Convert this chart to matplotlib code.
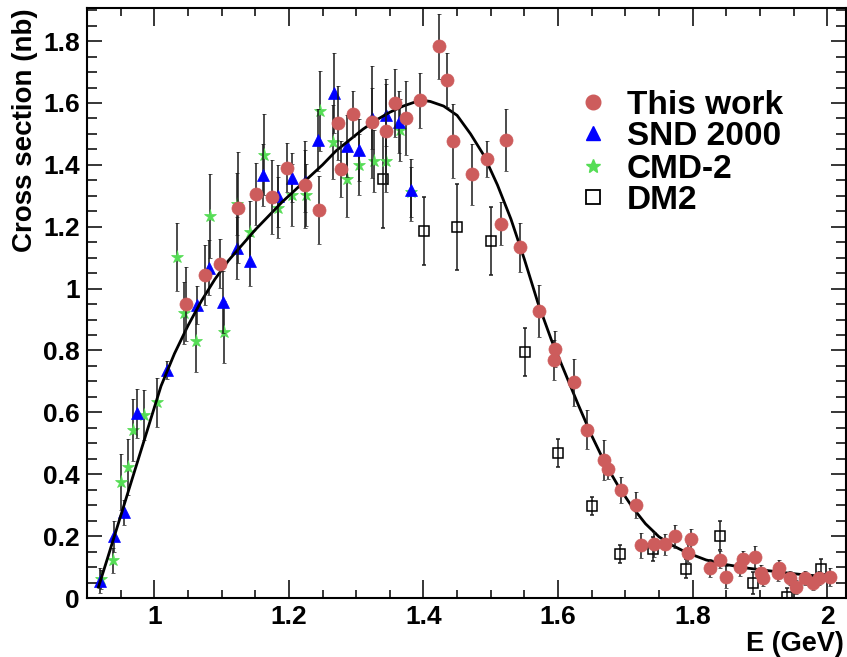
import matplotlib
matplotlib.use("Agg")
import matplotlib.pyplot as plt
from matplotlib.ticker import MultipleLocator, FuncFormatter

# ---- data: This work ----
this_E = [1.047, 1.0755, 1.0976, 1.1247, 1.1515, 1.175, 1.1966, 1.2237, 1.245, 1.273,
          1.277, 1.2955, 1.3237, 1.345, 1.357, 1.3748, 1.3945, 1.423, 1.4356, 1.444,
          1.472, 1.4944, 1.515, 1.522, 1.5435, 1.572, 1.5935, 1.5954, 1.6236, 1.6435,
          1.669, 1.6747, 1.6934, 1.716, 1.7237, 1.742, 1.759, 1.7746, 1.7927, 1.7977,
          1.8266, 1.840, 1.849, 1.871, 1.8745, 1.893, 1.9018, 1.904, 1.9265, 1.928,
          1.945, 1.954, 1.9676, 1.9785, 1.9885, 2.0048]
this_s = [0.950, 1.044, 1.081, 1.262, 1.307, 1.296, 1.391, 1.336, 1.253, 1.536,
          1.386, 1.565, 1.538, 1.508, 1.601, 1.551, 1.608, 1.783, 1.673, 1.476,
          1.369, 1.419, 1.210, 1.481, 1.133, 0.928, 0.769, 0.806, 0.698, 0.544,
          0.447, 0.416, 0.350, 0.300, 0.170, 0.173, 0.173, 0.199, 0.145, 0.191,
          0.097, 0.124, 0.068, 0.099, 0.126, 0.133, 0.081, 0.065, 0.081, 0.097,
          0.065, 0.035, 0.065, 0.049, 0.065, 0.068]
this_err = [0.12, 0.097, 0.08, 0.18, 0.10, 0.12, 0.08, 0.14, 0.11, 0.12,
            0.09, 0.074, 0.18, 0.17, 0.11, 0.12, 0.09, 0.106, 0.087, 0.12,
            0.10, 0.058, 0.07, 0.10, 0.08, 0.085, 0.065, 0.058, 0.076, 0.063,
            0.064, 0.03, 0.042, 0.043, 0.04, 0.04, 0.035, 0.036, 0.03, 0.032,
            0.03, 0.027, 0.037, 0.027, 0.027, 0.035, 0.025, 0.025, 0.025, 0.027,
            0.022, 0.022, 0.022, 0.022, 0.022, 0.03]

# ---- data: SND 2000 ----
snd_E = [0.920, 0.940, 0.955, 0.974, 1.019, 1.063, 1.082, 1.1025, 1.123, 1.142, 1.161,
         1.184, 1.204, 1.224, 1.2435, 1.267, 1.286, 1.304, 1.324, 1.345, 1.364, 1.381]
snd_s = [0.056, 0.199, 0.277, 0.597, 0.737, 0.947, 1.068, 0.957, 1.130, 1.089, 1.368,
         1.298, 1.359, 1.348, 1.479, 1.632, 1.460, 1.449, 1.55, 1.56, 1.538, 1.318]
snd_err = [0.04, 0.05, 0.04, 0.08, 0.03, 0.06, 0.09, 0.10, 0.10, 0.08, 0.10,
           0.10, 0.08, 0.10, 0.10, 0.13, 0.10, 0.10, 0.10, 0.10, 0.10, 0.10]

# ---- data: CMD-2 ----
cmd_E = [0.9204, 0.939, 0.950, 0.9614, 0.9687, 0.9847, 1.0045, 1.034, 1.0445, 1.0614,
         1.0827, 1.1035, 1.123, 1.142, 1.1633, 1.184, 1.205, 1.226, 1.246, 1.266,
         1.287, 1.3044, 1.326, 1.345, 1.3648, 1.381]
cmd_s = [0.06, 0.122, 0.374, 0.423, 0.544, 0.592, 0.632, 1.103, 0.92, 0.832,
         1.234, 0.861, 1.273, 1.183, 1.433, 1.262, 1.302, 1.302, 1.574, 1.474,
         1.353, 1.401, 1.412, 1.412, 1.513, 1.312]
cmd_err = [0.03, 0.04, 0.09, 0.09, 0.10, 0.08, 0.08, 0.11, 0.10, 0.10,
           0.135, 0.10, 0.10, 0.10, 0.13, 0.10, 0.10, 0.10, 0.13, 0.12,
           0.12, 0.10, 0.10, 0.10, 0.10, 0.08]

# ---- data: DM2 ----
dm2_E = [1.340, 1.4005, 1.4505, 1.501, 1.5505, 1.6005, 1.651, 1.6915, 1.741, 1.7905,
         1.840, 1.8905, 1.9405, 1.9905]
dm2_s = [1.355, 1.185, 1.199, 1.154, 0.796, 0.468, 0.298, 0.142, 0.158, 0.095,
         0.202, 0.049, 0.003, 0.095]
dm2_err = [0.16, 0.11, 0.14, 0.11, 0.078, 0.046, 0.03, 0.03, 0.04, 0.03,
           0.047, 0.035, 0.03, 0.03]

# ---- fit curve ----
fit_E = [0.917, 0.93, 0.95, 0.97, 0.99, 1.01, 1.03, 1.05, 1.07, 1.09, 1.11, 1.13, 1.15,
         1.17, 1.19, 1.21, 1.23, 1.25, 1.27, 1.29, 1.31, 1.33, 1.35, 1.37, 1.39, 1.40,
         1.41, 1.43, 1.45, 1.47, 1.49, 1.51, 1.53, 1.55, 1.57, 1.59, 1.61, 1.63, 1.65,
         1.67, 1.69, 1.71, 1.73, 1.75, 1.77, 1.79, 1.82, 1.85, 1.88, 1.91, 1.94, 1.97, 1.99]
fit_s = [0.035, 0.125, 0.265, 0.405, 0.545, 0.685, 0.79, 0.88, 0.96, 1.03, 1.09, 1.14, 1.19,
         1.235, 1.28, 1.32, 1.36, 1.40, 1.445, 1.48, 1.515, 1.545, 1.57, 1.59, 1.605, 1.608,
         1.605, 1.59, 1.56, 1.50, 1.43, 1.335, 1.225, 1.095, 0.955, 0.835, 0.73, 0.625, 0.525,
         0.435, 0.36, 0.295, 0.24, 0.198, 0.17, 0.148, 0.123, 0.108, 0.097, 0.089, 0.081,
         0.074, 0.071]

legend_labels = ["This work", "SND 2000", "CMD-2", "DM2"]
x_ticks = [1.0, 1.2, 1.4, 1.6, 1.8, 2.0]
y_ticks = [0, 0.2, 0.4, 0.6, 0.8, 1.0, 1.2, 1.4, 1.6, 1.8]

RED = "#CD5C5C"
BLUE = "#0000FF"
GREEN = "#55DD55"

plt.rcParams['font.family'] = ['Liberation Sans', 'DejaVu Sans']
plt.rcParams['font.weight'] = 'bold'

W, H = 847, 657
fig = plt.figure(figsize=(W / 100, H / 100), dpi=100)
ax = fig.add_axes([87 / W, 1 - 598 / H, (846 - 87) / W, (598 - 8.3) / H])

eb_kw = dict(ecolor="#1a1a1a", elinewidth=1.1, capsize=1.6, capthick=1.1, linestyle='none')

ax.errorbar(dm2_E, dm2_s, yerr=dm2_err, marker='s', ms=7.5, mfc='none', mec='black',
            mew=1.1, zorder=2, **eb_kw)
ax.errorbar(cmd_E, cmd_s, yerr=cmd_err, marker='*', ms=9.5, mfc=GREEN, mec=GREEN,
            mew=0.5, zorder=3, **eb_kw)
ax.errorbar(snd_E, snd_s, yerr=snd_err, marker='^', ms=8.8, mfc=BLUE, mec=BLUE,
            mew=0.5, zorder=4, **eb_kw)
ax.plot(fit_E, fit_s, color='black', lw=2.0, zorder=5, solid_joinstyle='round')
ax.errorbar(this_E, this_s, yerr=this_err, marker='o', ms=9.4, mfc=RED, mec=RED,
            mew=0.5, zorder=6, **eb_kw)

ax.set_xlim(0.9, 2.028)
ax.set_ylim(0, 1.906)
ax.set_xticks(x_ticks)
ax.set_yticks(y_ticks)
ax.xaxis.set_minor_locator(MultipleLocator(0.05))
ax.yaxis.set_minor_locator(MultipleLocator(0.05))
fmt = FuncFormatter(lambda v, p: ("%g" % round(v, 2)))
ax.xaxis.set_major_formatter(fmt)
ax.yaxis.set_major_formatter(fmt)

ax.tick_params(which='both', direction='in', top=True, right=True, width=1.1,
               labelsize=19)
ax.tick_params(axis='x', which='major', length=12.7, pad=5)
ax.tick_params(axis='x', which='minor', length=6)
ax.tick_params(axis='y', which='major', length=10.6, pad=5)
ax.tick_params(axis='y', which='minor', length=7)
for lab in ax.get_xticklabels() + ax.get_yticklabels():
    lab.set_fontweight('bold')
for sp in ax.spines.values():
    sp.set_linewidth(1.5)

fig.text(25 / W, 1 - 8 / H, "Cross section (nb)", rotation=90, ha='center', va='top',
         fontsize=20, fontweight='bold')
fig.text(844 / W, 1 - 644 / H, "E (GeV)", ha='right', va='center', fontsize=19.5,
         fontweight='bold')

# legend (manual)
rows_y = [101.7, 133, 166, 197]
styles = [dict(marker='o', ms=10.5, mfc=RED, mec=RED),
          dict(marker='^', ms=10, mfc=BLUE, mec=BLUE),
          dict(marker='*', ms=10.5, mfc=GREEN, mec=GREEN),
          dict(marker='s', ms=9.5, mfc='none', mec='black', mew=1.3)]
for yy, lab, st in zip(rows_y, legend_labels, styles):
    fig.lines.append(plt.Line2D([593 / W], [1 - yy / H], transform=fig.transFigure,
                                linestyle='none', **st))
    fig.text(627 / W, 1 - yy / H, lab, ha='left', va='center_baseline', fontsize=24,
             fontweight='bold')

fig.savefig("out.png", dpi=100)
